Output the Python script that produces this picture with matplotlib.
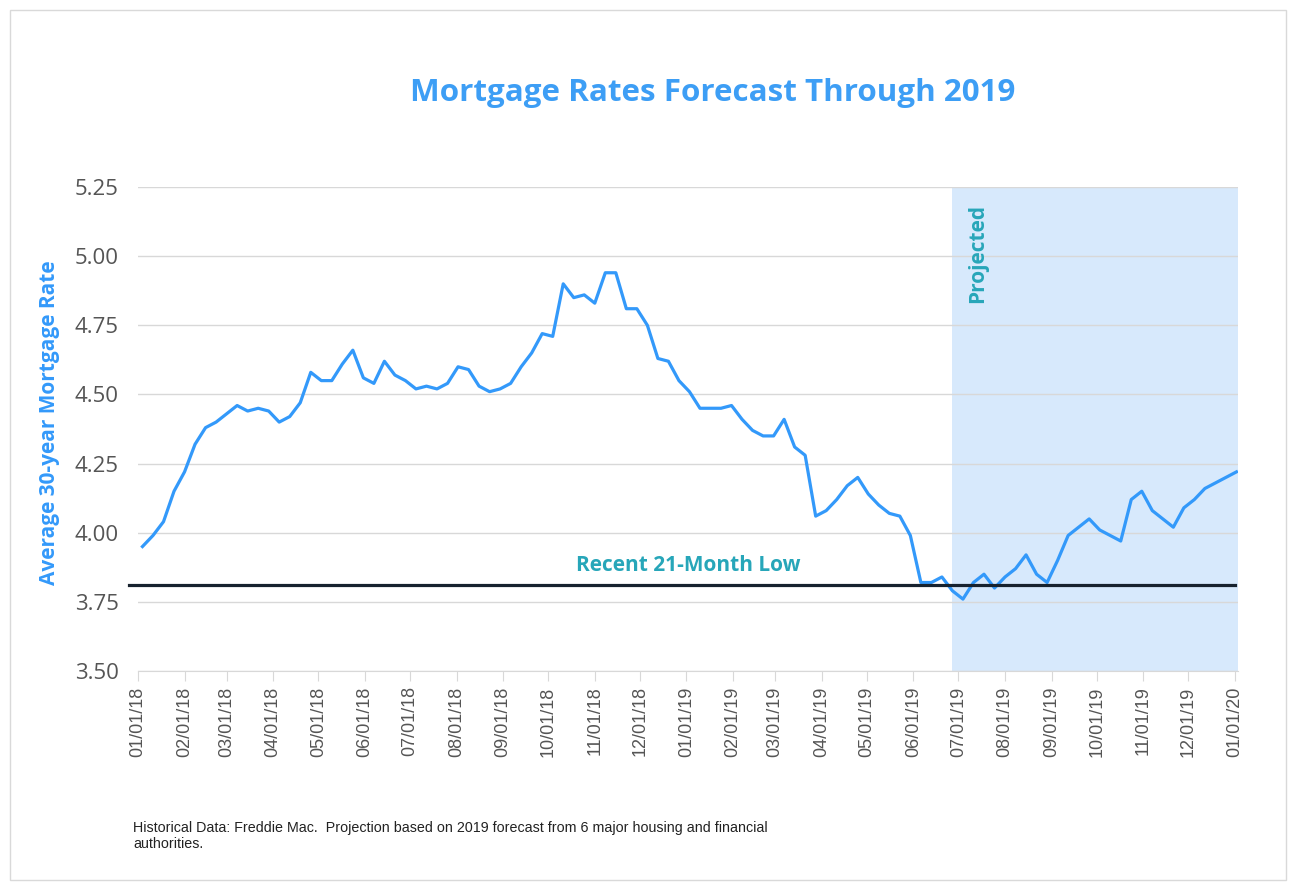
import pandas as pd
import matplotlib.pyplot as plt
import matplotlib.dates as mdates
from matplotlib.patches import Rectangle

# weekly Freddie Mac rates (Thursdays), Jan 2018 - Jun 2019
historical = [3.95, 3.99, 4.04, 4.15, 4.22, 4.32, 4.38, 4.40, 4.43, 4.46,
              4.44, 4.45, 4.44, 4.40, 4.42, 4.47, 4.58, 4.55, 4.55, 4.61,
              4.66, 4.56, 4.54, 4.62, 4.57, 4.55, 4.52, 4.53, 4.52, 4.54,
              4.60, 4.59, 4.53, 4.51, 4.52, 4.54, 4.60, 4.65, 4.72, 4.71,
              4.90, 4.85, 4.86, 4.83, 4.94, 4.94, 4.81, 4.81, 4.75, 4.63,
              4.62, 4.55, 4.51, 4.45, 4.45, 4.45, 4.46, 4.41, 4.37, 4.35,
              4.35, 4.41, 4.31, 4.28, 4.06, 4.08, 4.12, 4.17, 4.20, 4.14,
              4.10, 4.07, 4.06, 3.99, 3.82, 3.82, 3.84]
# projected weekly values, late Jun 2019 - Jan 2020
projected = [3.79, 3.76, 3.82, 3.85, 3.80, 3.84, 3.87, 3.92, 3.85, 3.82,
             3.90, 3.99, 4.02, 4.05, 4.01, 3.99, 3.97, 4.12, 4.15, 4.08,
             4.05, 4.02, 4.09, 4.12, 4.16, 4.18, 4.20, 4.22]
rates = historical + projected
dates = pd.date_range('2018-01-04', periods=len(rates), freq='7D')
projection_start = dates[len(historical)]

recent_low = 3.81
x_start = pd.Timestamp('2018-01-01')
x_end = pd.Timestamp('2020-01-03')
month_ticks = pd.date_range('2018-01-01', '2020-01-01', freq='MS')
y_ticks = [3.50, 3.75, 4.00, 4.25, 4.50, 4.75, 5.00, 5.25]

line_blue = '#3399fa'
title_blue = '#3d9ef5'
teal = '#27a6b9'
shade = '#d7e9fc'

fig = plt.figure(figsize=(12.99, 8.91), dpi=100)
fig.patches.append(Rectangle((10 / 1299, 11 / 891), 1276 / 1299, 870 / 891,
                             transform=fig.transFigure, fill=False,
                             edgecolor='#d9d9d9', linewidth=1))
ax = fig.add_axes([0.1062, 0.2469, 0.8468, 0.5432])

ax.axvspan(projection_start, x_end, color=shade, zorder=0, linewidth=0)
ax.plot(dates, rates, color=line_blue, linewidth=2.3, zorder=3)
ax.axhline(recent_low, xmin=-0.008, xmax=0.997, color='#17222e',
           linewidth=2.3, zorder=4, clip_on=False)

ax.set_xlim(x_start, x_end)
ax.set_ylim(3.5, 5.25)
ax.set_yticks(y_ticks)
ax.set_yticklabels([f'{v:.2f}' for v in y_ticks], fontsize=16,
                   color='#555555', family='Open Sans')
ax.set_xticks(month_ticks)
ax.xaxis.set_major_formatter(mdates.DateFormatter('%m/%d/%y'))
plt.setp(ax.get_xticklabels(), rotation=90, fontsize=13, color='#555555',
         family='Liberation Sans')

ax.grid(axis='y', color='#d8d8d8', linewidth=1, zorder=1)
ax.set_axisbelow(True)
for side in ['top', 'right', 'left']:
    ax.spines[side].set_visible(False)
ax.spines['bottom'].set_color('#d8d8d8')
ax.tick_params(axis='y', length=0, pad=14)
ax.tick_params(axis='x', length=7, color='#d8d8d8', pad=4)

ax.set_ylabel('Average 30-year Mortgage Rate', fontsize=15,
              fontweight='bold', color=line_blue, family='Open Sans')
ax.yaxis.set_label_coords(-0.071, 0.514)

ax.text(pd.Timestamp('2019-01-02'), recent_low + 0.035, 'Recent 21-Month Low',
        color=teal, fontsize=15, fontweight='bold', family='Open Sans',
        ha='center', va='bottom')
ax.text(projection_start + pd.Timedelta(days=17), 5.19, 'Projected',
        color=teal, fontsize=15, fontweight='bold', family='Open Sans',
        rotation=90, ha='center', va='top')

fig.text(713 / 1299, 1 - 93 / 891, 'Mortgage Rates Forecast Through 2019',
         color=title_blue, fontsize=22.6, fontweight='bold', family='Open Sans',
         ha='center', va='center')
fig.text(133 / 1299, 1 - 821 / 891,
         'Historical Data: Freddie Mac.  Projection based on 2019 forecast from 6 major housing and financial\nauthorities.',
         fontsize=10.3, color='#222222', family='Liberation Sans',
         ha='left', va='top', linespacing=1.15)

fig.savefig('out.png', dpi=100)
